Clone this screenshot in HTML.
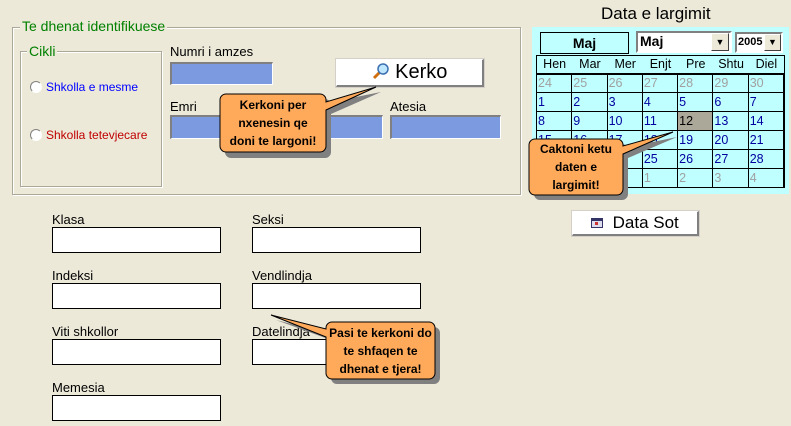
<!DOCTYPE html>
<html><head><meta charset="utf-8">
<style>
*{box-sizing:border-box;margin:0;padding:0}
body{width:791px;height:426px;background:#ece9d8;font-family:"Liberation Sans",sans-serif;font-size:13px;position:relative;overflow:hidden}
.a{position:absolute}
.grp{position:absolute;border:1px solid #aca899;box-shadow:1px 1px 0 #fff inset,1px 1px 0 #fff}
.lg{position:absolute;background:#ece9d8;color:#008000;padding:0 2px;font-size:14px;line-height:15px}
.blue{position:absolute;background:#7b9ae0;border-top:2px solid #808080;border-left:2px solid #808080;border-right:1px solid #fff;border-bottom:1px solid #fff}
.wb{position:absolute;background:#fff;border:1px solid #000}
.lbl{position:absolute;font-size:13px;color:#000;line-height:14px}
.rad{position:absolute;width:12px;height:12px;border-radius:50%;background:#fff;border:1px solid #808080;border-right-color:#fff;border-bottom-color:#fff}
.btn{position:absolute;background:#fff;border:1px solid #fff;border-right:2px solid #808080;border-bottom:2px solid #808080;text-align:center;box-shadow:0 0 0 1px #d4d0c8}
table{border-collapse:collapse;position:absolute;left:536px;top:55px;width:248px;table-layout:fixed}
td{border:1px solid #000;height:19px;font-size:12.5px;color:#0000a0;padding:0 0 0 1px;vertical-align:middle;background:#c0ffff;line-height:14px}
td.g{color:#a0a0a0}
td.s{background:#aca899;color:#000}
tr.h td{height:18px;color:#000;text-align:center;border-left:none;border-right:none;border-bottom:2px solid #000}
.call{font-family:"Liberation Sans",sans-serif;font-weight:bold;font-size:12px;text-align:center;line-height:18px}
</style></head><body>

<div class="grp" style="left:12px;top:27px;width:509px;height:168px"></div>
<div class="lg" style="left:20px;top:19px">Te dhenat identifikuese</div>
<div class="grp" style="left:20px;top:51px;width:142px;height:136px"></div>
<div class="lg" style="left:27px;top:44px">Cikli</div>
<div class="rad" style="left:30px;top:81px"></div>
<div class="lbl" style="left:46px;top:80px;color:#0000ff;font-size:12px">Shkolla e mesme</div>
<div class="rad" style="left:30px;top:129px"></div>
<div class="lbl" style="left:46px;top:128px;color:#c00000;font-size:12px">Shkolla tetevjecare</div>

<div class="lbl" style="left:170px;top:45px">Numri i amzes</div>
<div class="blue" style="left:170px;top:62px;width:103px;height:23px"></div>
<div class="btn" style="left:336px;top:59px;width:148px;height:28px;font-size:20px;line-height:24px">
<svg width="18" height="18" viewBox="0 0 18 18" style="vertical-align:-2px"><line x1="2" y1="16" x2="8" y2="10" stroke="#d07010" stroke-width="3"/><circle cx="11" cy="7" r="5" fill="#bfe6ff" stroke="#3b6fb0" stroke-width="1.5"/></svg> Kerko</div>

<div class="lbl" style="left:170px;top:100px">Emri</div>
<div class="blue" style="left:170px;top:115px;width:213px;height:24px"></div>
<div class="lbl" style="left:390px;top:100px">Atesia</div>
<div class="blue" style="left:390px;top:115px;width:111px;height:24px"></div>

<div class="lbl" style="left:52px;top:213px">Klasa</div>
<div class="wb" style="left:52px;top:227px;width:169px;height:26px"></div>
<div class="lbl" style="left:252px;top:213px">Seksi</div>
<div class="wb" style="left:252px;top:227px;width:169px;height:26px"></div>
<div class="lbl" style="left:52px;top:269px">Indeksi</div>
<div class="wb" style="left:52px;top:283px;width:169px;height:26px"></div>
<div class="lbl" style="left:252px;top:269px">Vendlindja</div>
<div class="wb" style="left:252px;top:283px;width:169px;height:26px"></div>
<div class="lbl" style="left:52px;top:325px">Viti shkollor</div>
<div class="wb" style="left:52px;top:339px;width:169px;height:26px"></div>
<div class="lbl" style="left:252px;top:325px">Datelindja</div>
<div class="wb" style="left:252px;top:339px;width:169px;height:26px"></div>
<div class="lbl" style="left:52px;top:381px">Memesia</div>
<div class="wb" style="left:52px;top:395px;width:169px;height:26px"></div>

<div class="lbl" style="left:601px;top:5px;font-size:17px;line-height:18px">Data e largimit</div>
<div class="a" style="left:532px;top:27px;width:257px;height:167px;background:#c0ffff"></div>
<div class="a" style="left:540px;top:32px;width:89px;height:22px;border:1px solid #000;background:#c0ffff;text-align:center;font-weight:bold;font-size:14px;line-height:20px">Maj</div>
<div class="a" style="left:636px;top:31px;width:96px;height:22px;background:#fff;border:2px solid #808080;border-right-color:#fff;border-bottom-color:#fff;font-weight:bold;font-size:14px;line-height:17px;padding-left:2px">Maj
<div class="a" style="right:1px;top:0px;width:18px;height:18px;background:#ece9d8;border:1px solid #fff;border-right-color:#404040;border-bottom-color:#404040;font-size:9px;line-height:16px;text-align:center;font-weight:normal">▼</div></div>
<div class="a" style="left:735px;top:32px;width:48px;height:21px;background:#fff;border:2px solid #808080;border-right-color:#fff;border-bottom-color:#fff;font-weight:bold;font-size:11px;line-height:17px;padding-left:1px">2005
<div class="a" style="right:0px;top:0px;width:17px;height:17px;background:#ece9d8;border:1px solid #fff;border-right-color:#404040;border-bottom-color:#404040;font-size:9px;line-height:15px;text-align:center;font-weight:normal">▼</div></div>
<div class="a" style="left:536px;top:55px;width:249px;height:133px;border:2px solid #000"></div>
<table>
<tr class="h"><td>Hen</td><td>Mar</td><td>Mer</td><td>Enjt</td><td>Pre</td><td>Shtu</td><td>Diel</td></tr>
<tr><td class="g">24</td><td class="g">25</td><td class="g">26</td><td class="g">27</td><td class="g">28</td><td class="g">29</td><td class="g">30</td></tr>
<tr><td>1</td><td>2</td><td>3</td><td>4</td><td>5</td><td>6</td><td>7</td></tr>
<tr><td>8</td><td>9</td><td>10</td><td>11</td><td class="s">12</td><td>13</td><td>14</td></tr>
<tr><td>15</td><td>16</td><td>17</td><td>18</td><td>19</td><td>20</td><td>21</td></tr>
<tr><td>22</td><td>23</td><td>24</td><td>25</td><td>26</td><td>27</td><td>28</td></tr>
<tr><td>29</td><td>30</td><td>31</td><td class="g">1</td><td class="g">2</td><td class="g">3</td><td class="g">4</td></tr>
</table>
<div class="btn" style="left:572px;top:211px;width:127px;height:25px;font-size:17px;line-height:21px">
<svg width="12" height="10" style="vertical-align:0"><rect x="0.5" y="0.5" width="11" height="9" fill="#dde" stroke="#336"/><rect x="1" y="1" width="10" height="2" fill="#336"/><rect x="4" y="4" width="3" height="3" fill="#c33"/></svg>&nbsp; Data Sot</div>

<svg class="a" style="left:0;top:0" width="791" height="426">
<g fill="#808080">
<path d="M231,99 h94 a6,6 0 0 1 6,6 v-3 L381,92 L331,114 v38 a6,6 0 0 1 -6,6 h-94 a6,6 0 0 1 -6,-6 v-47 a6,6 0 0 1 6,-6z"/>
<path d="M540,144 h82 a6,6 0 0 1 6,6 v-3 L677,137 L628,158 v36 a6,6 0 0 1 -6,6 h-82 a6,6 0 0 1 -6,-6 v-44 a6,6 0 0 1 6,-6z"/>
<path d="M337,327 h97 a6,6 0 0 1 6,6 v45 a6,6 0 0 1 -6,6 h-97 a6,6 0 0 1 -6,-6 v-38 L276,320 L331,334 a6,6 0 0 1 6,-7z"/>
</g>
<g fill="#ffa95a" stroke="#000" stroke-width="1">
<path d="M226,94 h94 a6,6 0 0 1 6,6 v2 L376,87 L326,110 v36 a6,6 0 0 1 -6,6 h-94 a6,6 0 0 1 -6,-6 v-46 a6,6 0 0 1 6,-6z"/>
<path d="M535,139 h82 a6,6 0 0 1 6,6 v1 L673,132 L623,154 v35 a6,6 0 0 1 -6,6 h-82 a6,6 0 0 1 -6,-6 v-44 a6,6 0 0 1 6,-6z"/>
<path d="M332,322 h97 a6,6 0 0 1 6,6 v45 a6,6 0 0 1 -6,6 h-97 a6,6 0 0 1 -6,-6 v-36 L271,315 L326,329 v-1 a6,6 0 0 1 6,-6z"/>
</g>
</svg>
<div class="a call" style="left:220px;top:96px;width:106px">Kerkoni per<br>nxenesin qe<br>doni te largoni!</div>
<div class="a call" style="left:529px;top:140px;width:94px">Caktoni ketu<br>daten e<br>largimit!</div>
<div class="a call" style="left:326px;top:324px;width:109px">Pasi te kerkoni do<br>te shfaqen te<br>dhenat e tjera!</div>
</body></html>
